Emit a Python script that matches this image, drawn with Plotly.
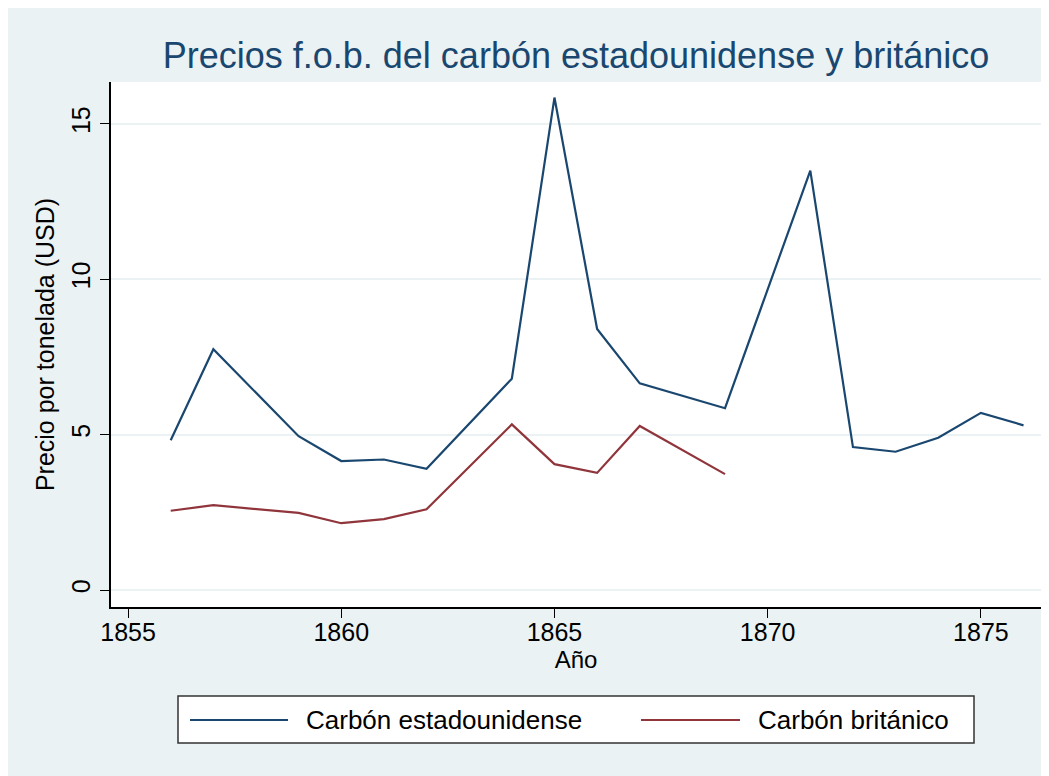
import plotly.graph_objects as go

# Datos
anios_us = [1856, 1857, 1859, 1860, 1861, 1862, 1864, 1865, 1866, 1867,
            1869, 1871, 1872, 1873, 1874, 1875, 1876]
precio_us = [4.82, 7.75, 4.95, 4.15, 4.2, 3.9, 6.8, 15.85, 8.4, 6.65,
             5.85, 13.5, 4.6, 4.45, 4.9, 5.7, 5.3]

anios_gb = [1856, 1857, 1859, 1860, 1861, 1862, 1864, 1865, 1866, 1867, 1869]
precio_gb = [2.55, 2.73, 2.48, 2.15, 2.28, 2.6, 5.33, 4.05, 3.77, 5.28, 3.73]

x_ticks = [1855, 1860, 1865, 1870, 1875]
y_ticks = [0, 5, 10, 15]

AZUL = '#1A476F'
ROJO = '#90353B'
FONDO = '#EAF2F3'
FUENTE = 'Liberation Sans, Arial, sans-serif'

# la página deja 8px de margen en el body
OFF = 8
W, H = 1049 - OFF, 776 - OFF
L, R, T, B = 111 - OFF, 8, 82 - OFF, 169
PW, PH = W - L - R, H - T - B


def px_x(p):
    # p en coordenadas de la ventana
    return (p - OFF - L) / PW


def px_y(p):
    return (H - B - (p - OFF)) / PH


fig = go.Figure()

fig.add_trace(go.Scatter(
    x=anios_us, y=precio_us, mode='lines',
    line=dict(color=AZUL, width=2.2),
    name='Carbón estadounidense', showlegend=False
))
fig.add_trace(go.Scatter(
    x=anios_gb, y=precio_gb, mode='lines',
    line=dict(color=ROJO, width=2.2),
    name='Carbón británico', showlegend=False
))

# leyenda dibujada a mano
shapes = [
    dict(type='rect', xref='paper', yref='paper',
         x0=px_x(178), x1=px_x(974), y0=px_y(743), y1=px_y(696),
         fillcolor='white', line=dict(color='#333333', width=1.5)),
    dict(type='line', xref='paper', yref='paper',
         x0=px_x(190), x1=px_x(288), y0=px_y(720), y1=px_y(720),
         line=dict(color=AZUL, width=2.2)),
    dict(type='line', xref='paper', yref='paper',
         x0=px_x(641), x1=px_x(740), y0=px_y(720), y1=px_y(720),
         line=dict(color=ROJO, width=2.2)),
]

annotations = [
    dict(text='Carbón estadounidense', xref='paper', yref='paper',
         x=px_x(304), y=px_y(720), xanchor='left', yanchor='middle',
         showarrow=False, font=dict(size=26, color='black', family=FUENTE)),
    dict(text='Carbón británico', xref='paper', yref='paper',
         x=px_x(756), y=px_y(720), xanchor='left', yanchor='middle',
         showarrow=False, font=dict(size=26, color='black', family=FUENTE)),
]

fig.update_layout(
    width=W, height=H,
    margin=dict(l=L, r=R, t=T, b=B),
    paper_bgcolor=FONDO,
    plot_bgcolor='white',
    font=dict(family=FUENTE, color='black', size=25),
    showlegend=False,
    title=dict(
        text='Precios f.o.b. del carbón estadounidense y británico',
        font=dict(size=36, color=AZUL, family=FUENTE),
        xref='paper', x=px_x(576), xanchor='center',
        y=1 - (55 - OFF) / H, yanchor='middle'
    ),
    xaxis=dict(
        range=[1854.6, 1876.41],
        tickvals=x_ticks,
        ticks='outside', ticklen=9, tickcolor='black', tickwidth=1,
        ticklabelstandoff=-7,
        showgrid=False, zeroline=False,
        showline=True, linecolor='black', linewidth=1.5,
        tickfont=dict(size=25),
        title=dict(text='Año', font=dict(size=24), standoff=6)
    ),
    yaxis=dict(
        range=[-0.547, 16.35],
        tickvals=y_ticks,
        tickangle=-90,
        ticks='outside', ticklen=9, tickcolor='black', tickwidth=1,
        showgrid=True, gridcolor=FONDO, gridwidth=1.5,
        zeroline=False,
        showline=True, linecolor='black', linewidth=1.5,
        tickfont=dict(size=25),
        title=dict(text='Precio por tonelada (USD)', font=dict(size=25), standoff=6)
    ),
    shapes=shapes,
    annotations=annotations,
)

fig.write_html("out.html")
